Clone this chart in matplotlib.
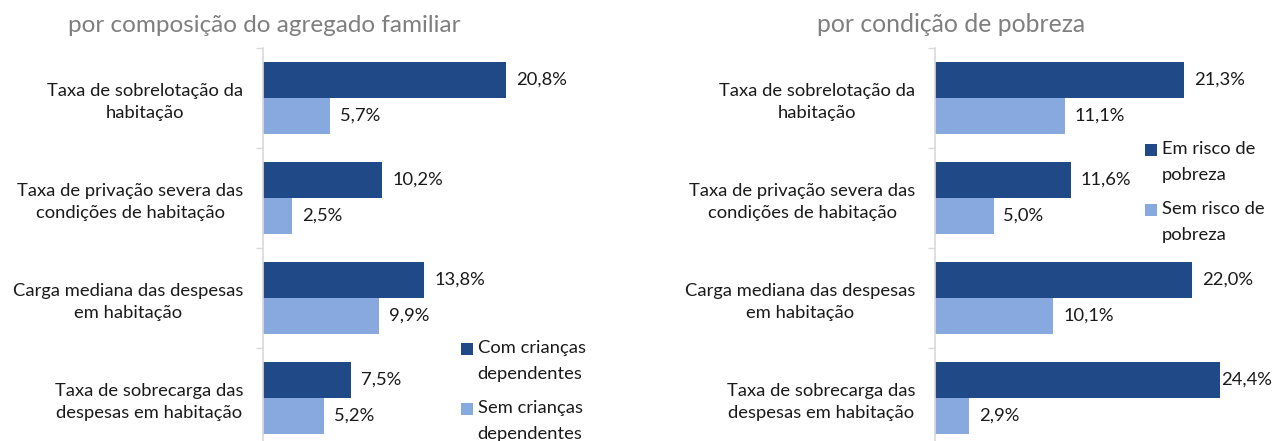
import matplotlib
matplotlib.use("Agg")
import matplotlib.pyplot as plt
from matplotlib.patches import Rectangle
from matplotlib.container import BarContainer
from matplotlib.legend_handler import HandlerPatch, update_from_first_child

plt.rcParams['font.family'] = ['Lato', 'DejaVu Sans']

# -----------------------------
# Dados
# -----------------------------
categorias = [
    "Taxa de sobrelotação da\nhabitação",
    "Taxa de privação severa das\ncondições de habitação",
    "Carga mediana das despesas\nem habitação",
    "Taxa de sobrecarga das\ndespesas em habitação",
]
com_criancas = [20.8, 10.2, 13.8, 7.5]
sem_criancas = [5.7, 2.5, 9.9, 5.2]
em_risco = [21.3, 11.6, 22.0, 24.4]
sem_risco = [11.1, 5.0, 10.1, 2.9]

titulos = ["por composição do agregado familiar", "por condição de pobreza"]
legendas = [
    ["Com crianças\ndependentes", "Sem crianças\ndependentes"],
    ["Em risco de\npobreza", "Sem risco de\npobreza"],
]

# -----------------------------
# Estilo
# -----------------------------
W, H = 1272, 441
AZUL_ESCURO = "#1F4A87"
AZUL_CLARO = "#87A9E0"
CINZA_EIXO = "#D9D9D9"
TEXTO = "#1A1A1A"
FS = 13.2
PX_POR_PCT = 11.7
XMAX = 25

fig = plt.figure(figsize=(W / 100, H / 100), dpi=100)


def rect_px(x0, top, largura, altura):
    return [x0 / W, 1 - (top + altura) / H, largura / W, altura / H]


def handle_topo(legend, orig_handle, xdescent, ydescent, width, height, fontsize):
    # quadrado alinhado com a primeira linha do texto
    return Rectangle((-xdescent, -ydescent + 0.66 * fontsize), width, height)


def painel(x0, serie1, serie2, titulo, titulo_cx, titulo_fs, nomes, leg_xy):
    ax = fig.add_axes(rect_px(x0, 47.7, XMAX * PX_POR_PCT, 400))
    y = list(range(len(categorias)))
    h = 0.36
    b1 = ax.barh([v - h / 2 for v in y], serie1, height=h, color=AZUL_ESCURO, label=nomes[0])
    b2 = ax.barh([v + h / 2 for v in y], serie2, height=h, color=AZUL_CLARO, label=nomes[1])

    for barras in (b1, b2):
        for r in barras:
            v = r.get_width()
            off = 1 if v > 24 else 10  # rótulo encostado à barra quando não cabe
            ax.annotate(f"{v:.1f}%".replace(".", ","),
                        (v, r.get_y() + r.get_height() / 2),
                        xytext=(off * 0.72, 0), textcoords="offset points",
                        ha="left", va="center", fontsize=FS, color=TEXTO)

    ax.set_xlim(0, XMAX)
    ax.set_ylim(len(categorias) - 0.5, -0.5)
    ax.set_yticks(y)
    ax.set_yticklabels(categorias, fontsize=FS, color=TEXTO, multialignment="center",
                       linespacing=1.45)
    ax.set_yticks([v - 0.5 for v in range(len(categorias) + 1)], minor=True)
    ax.tick_params(axis="y", which="major", length=0, pad=14)
    ax.tick_params(axis="y", which="minor", length=5, color=CINZA_EIXO, width=1)
    ax.set_xticks([])
    for s in ("top", "right", "bottom"):
        ax.spines[s].set_visible(False)
    ax.spines["left"].set_color(CINZA_EIXO)
    ax.spines["left"].set_linewidth(1.2)

    fig.text(titulo_cx / W, 1 - 25 / H, titulo, ha="center", va="center",
             fontsize=titulo_fs, color="#7F7F7F")

    leg = fig.legend(handles=[b1, b2], labels=nomes, loc="upper left",
                     bbox_to_anchor=(leg_xy[0] / W, 1 - leg_xy[1] / H),
                     frameon=False, fontsize=FS, borderpad=0, borderaxespad=0,
                     handlelength=0.65, handleheight=0.65, handletextpad=0.25,
                     labelspacing=1.0,
                     handler_map={BarContainer: HandlerPatch(patch_func=handle_topo,
                                                             update_func=update_from_first_child)})
    for t in leg.get_texts():
        t.set_linespacing(1.75)
        t.set_color(TEXTO)
    return ax


painel(263, com_criancas, sem_criancas, titulos[0], 264, 17.5, legendas[0], (461, 340))
painel(935, em_risco, sem_risco, titulos[1], 951, 17.8, legendas[1], (1145, 141))

fig.savefig("out.png", dpi=100)
